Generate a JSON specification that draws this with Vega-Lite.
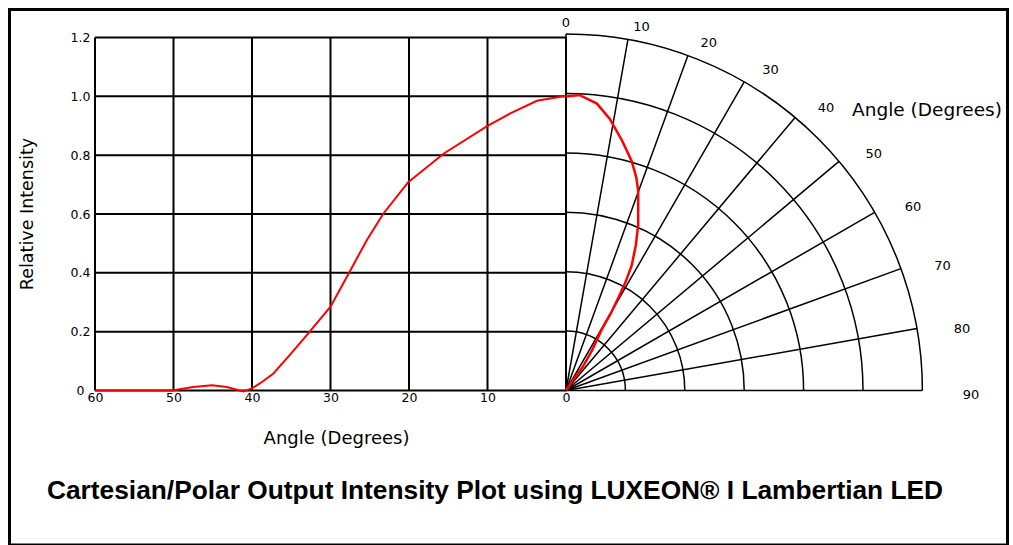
{
  "$schema": "https://vega.github.io/schema/vega-lite/v6.json",
  "width": 998,
  "height": 535.5,
  "autosize": "none",
  "padding": {"left": 9.5, "top": 9.5, "right": 5.5, "bottom": 0},
  "background": "white",
  "config": {
    "font": "DejaVu Sans",
    "view": {"stroke": "black", "strokeWidth": 3},
    "axis": {"labelColor": "black", "titleColor": "black", "titleFontWeight": "normal", "labelFont": "DejaVu Sans", "titleFont": "DejaVu Sans"}
  },
  "title": {
    "text": "Cartesian/Polar Output Intensity Plot using LUXEON® I Lambertian LED",
    "orient": "bottom",
    "anchor": "start",
    "frame": "group",
    "offset": -46.5,
    "dx": 37.5,
    "baseline": "alphabetic",
    "font": "Liberation Sans",
    "fontSize": 26.3,
    "fontWeight": "bold",
    "color": "black"
  },
  "datasets": {
    "vgrid": [{"angle": 60}, {"angle": 50}, {"angle": 40}, {"angle": 30}, {"angle": 20}, {"angle": 10}, {"angle": 0}],
    "hgrid": [{"v": 0}, {"v": 0.2}, {"v": 0.4}, {"v": 0.6}, {"v": 0.8}, {"v": 1.0}, {"v": 1.2}],
    "cart": [
      {"angle": 60, "I": 0}, {"angle": 50, "I": 0}, {"angle": 49.2, "I": 0.004}, {"angle": 47.5, "I": 0.012},
      {"angle": 45.1, "I": 0.018}, {"angle": 43.2, "I": 0.012}, {"angle": 41.1, "I": -0.003}, {"angle": 40.0, "I": 0.007},
      {"angle": 39.0, "I": 0.024}, {"angle": 37.3, "I": 0.057}, {"angle": 35.2, "I": 0.12}, {"angle": 32.8, "I": 0.195},
      {"angle": 30.0, "I": 0.285}, {"angle": 27.7, "I": 0.397}, {"angle": 25.4, "I": 0.51}, {"angle": 23.3, "I": 0.6},
      {"angle": 20.1, "I": 0.708}, {"angle": 15.6, "I": 0.805}, {"angle": 10.1, "I": 0.898}, {"angle": 7.1, "I": 0.942},
      {"angle": 3.7, "I": 0.985}, {"angle": 0.3, "I": 1.0}, {"angle": 0, "I": 1.0}
    ],
    "rings": [{"r": 0.2}, {"r": 0.4}, {"r": 0.6}, {"r": 0.8}, {"r": 1.0}, {"r": 1.2}],
    "spokes": [{"a": 0}, {"a": 10}, {"a": 20}, {"a": 30}, {"a": 40}, {"a": 50}, {"a": 60}, {"a": 70}, {"a": 80}, {"a": 90}],
    "polar": [
      {"i": 0, "h": 0, "v": 0}, {"i": 1, "h": 0.023, "v": 0.034}, {"i": 2, "h": 0.056, "v": 0.079},
      {"i": 3, "h": 0.088, "v": 0.136}, {"i": 4, "h": 0.12, "v": 0.205}, {"i": 5, "h": 0.152, "v": 0.262},
      {"i": 6, "h": 0.179, "v": 0.318}, {"i": 7, "h": 0.2, "v": 0.364}, {"i": 8, "h": 0.221, "v": 0.42},
      {"i": 9, "h": 0.235, "v": 0.489}, {"i": 10, "h": 0.243, "v": 0.557}, {"i": 11, "h": 0.243, "v": 0.671},
      {"i": 12, "h": 0.237, "v": 0.716}, {"i": 13, "h": 0.221, "v": 0.773}, {"i": 14, "h": 0.189, "v": 0.841},
      {"i": 15, "h": 0.147, "v": 0.915}, {"i": 16, "h": 0.104, "v": 0.966}, {"i": 17, "h": 0.045, "v": 0.995},
      {"i": 18, "h": 0, "v": 0.99}
    ],
    "plabels": [
      {"a": 0, "lab": "0"}, {"a": 10, "lab": "10"}, {"a": 20, "lab": "20"}, {"a": 30, "lab": "30"}, {"a": 40, "lab": "40"},
      {"a": 50, "lab": "50"}, {"a": 60, "lab": "60"}, {"a": 70, "lab": "70"}, {"a": 80, "lab": "80"}, {"a": 90, "lab": "90"}
    ],
    "note": [{"t": "Angle (Degrees)"}]
  },
  "layer": [
    {
      "data": {"name": "vgrid"},
      "mark": {"type": "rule", "stroke": "black", "strokeWidth": 2},
      "encoding": {
        "x": {"field": "angle", "type": "quantitative", "scale": {"domain": [-56.242, 70.892], "reverse": true, "nice": false, "zero": false}, "axis": null},
        "y": {"datum": 0, "type": "quantitative", "scale": {"domain": [-0.5252, 1.2952], "nice": false, "zero": false}, "axis": null},
        "y2": {"datum": 1.2}
      }
    },
    {
      "data": {"name": "hgrid"},
      "mark": {"type": "rule", "stroke": "black", "strokeWidth": 2},
      "encoding": {
        "y": {"field": "v", "type": "quantitative", "scale": {"domain": [-0.5252, 1.2952], "nice": false, "zero": false}, "axis": null},
        "x": {"datum": 60, "type": "quantitative", "scale": {"domain": [-56.242, 70.892], "reverse": true, "nice": false, "zero": false}, "axis": null},
        "x2": {"datum": 0}
      }
    },
    {
      "data": {"name": "cart"},
      "mark": {"type": "line", "stroke": "red", "strokeWidth": 2},
      "encoding": {
        "x": {
          "field": "angle", "type": "quantitative",
          "scale": {"domain": [-56.242, 70.892], "reverse": true, "nice": false, "zero": false},
          "axis": {
            "orient": "bottom",
            "values": [60, 50, 40, 30, 20, 10, 0], "format": "d",
            "grid": false, "domain": false, "ticks": false, "tickSize": 0,
            "offset": -154.5, "labelPadding": 1, "labelFontSize": 12.5,
            "labelFlush": false, "labelOverlap": false,
            "title": "Angle (Degrees)", "titleFontSize": 18,
            "titleX": 326.5, "titleY": 47.5, "titleAlign": "center", "titleBaseline": "middle"
          }
        },
        "y": {
          "field": "I", "type": "quantitative",
          "scale": {"domain": [-0.5252, 1.2952], "nice": false, "zero": false},
          "axis": {
            "orient": "left",
            "values": [0, 0.2, 0.4, 0.6, 0.8, 1.0, 1.2],
            "labelExpr": "datum.value == 0 ? '0' : format(datum.value, '.1f')",
            "grid": false, "domain": false, "ticks": false, "tickSize": 0,
            "offset": -85.5, "labelAlign": "center", "labelBaseline": "middle", "labelPadding": 15,
            "labelFontSize": 12.5, "labelFlush": false, "labelOverlap": false,
            "title": "Relative Intensity", "titleFontSize": 17.5,
            "titleX": -68, "titleY": 204, "titleAngle": -90, "titleAlign": "center", "titleBaseline": "middle"
          }
        }
      }
    },
    {
      "data": {"name": "rings"},
      "mark": {"type": "arc", "filled": false, "stroke": "black", "strokeWidth": 1.5},
      "encoding": {
        "x": {"datum": 0, "type": "quantitative", "scale": {"domain": [-1.8737, 1.4865], "nice": false, "zero": false}, "axis": null},
        "y": {"datum": 0, "type": "quantitative", "scale": {"domain": [-0.5202, 1.2828], "nice": false, "zero": false}, "axis": null},
        "theta": {"datum": 0, "type": "quantitative", "scale": {"type": "linear", "domain": [0, 360]}},
        "theta2": {"datum": 90},
        "radius": {"field": "r", "type": "quantitative", "scale": {"type": "linear", "domain": [0, 1.2], "range": [0, 356.4]}},
        "radius2": {"field": "r"}
      }
    },
    {
      "data": {"name": "spokes"},
      "mark": {"type": "arc", "filled": false, "stroke": "black", "strokeWidth": 1.5},
      "encoding": {
        "x": {"datum": 0, "type": "quantitative", "scale": {"domain": [-1.8737, 1.4865], "nice": false, "zero": false}, "axis": null},
        "y": {"datum": 0, "type": "quantitative", "scale": {"domain": [-0.5202, 1.2828], "nice": false, "zero": false}, "axis": null},
        "theta": {"field": "a", "type": "quantitative", "scale": {"type": "linear", "domain": [0, 360]}},
        "theta2": {"field": "a"},
        "radius": {"datum": 1.2, "type": "quantitative", "scale": {"type": "linear", "domain": [0, 1.2], "range": [0, 356.4]}},
        "radius2": {"datum": 0}
      }
    },
    {
      "data": {"name": "polar"},
      "mark": {"type": "line", "stroke": "red", "strokeWidth": 2.5},
      "encoding": {
        "x": {"field": "h", "type": "quantitative", "scale": {"domain": [-1.8737, 1.4865], "nice": false, "zero": false}, "axis": null},
        "y": {"field": "v", "type": "quantitative", "scale": {"domain": [-0.5202, 1.2828], "nice": false, "zero": false}, "axis": null},
        "order": {"field": "i", "type": "quantitative"}
      }
    },
    {
      "data": {"name": "plabels"},
      "mark": {"type": "text", "font": "DejaVu Sans", "fontSize": 13, "color": "black", "align": "center", "baseline": "middle"},
      "encoding": {
        "x": {"datum": 0, "type": "quantitative", "scale": {"domain": [-1.8737, 1.4865], "nice": false, "zero": false}, "axis": null},
        "y": {"datum": 0, "type": "quantitative", "scale": {"domain": [-0.5202, 1.2828], "nice": false, "zero": false}, "axis": null},
        "theta": {"field": "a", "type": "quantitative", "scale": {"type": "pow", "exponent": 0.931, "domain": [0, 90], "range": [0, 1.5813]}},
        "radius": {"field": "a", "type": "quantitative", "scale": {"type": "linear", "domain": [0, 90], "range": [367.5, 405]}},
        "text": {"field": "lab"}
      }
    },
    {
      "data": {"name": "note"},
      "mark": {"type": "text", "font": "DejaVu Sans", "fontSize": 18.5, "color": "black", "align": "left", "baseline": "alphabetic"},
      "encoding": {
        "x": {"datum": 0.963, "type": "quantitative", "scale": {"domain": [-1.8737, 1.4865], "nice": false, "zero": false}, "axis": null},
        "y": {"datum": 0.924, "type": "quantitative", "scale": {"domain": [-0.5202, 1.2828], "nice": false, "zero": false}, "axis": null},
        "text": {"field": "t"}
      }
    }
  ],
  "resolve": {
    "scale": {"x": "independent", "y": "independent", "theta": "independent", "radius": "independent"},
    "axis": {"x": "independent", "y": "independent"}
  }
}
